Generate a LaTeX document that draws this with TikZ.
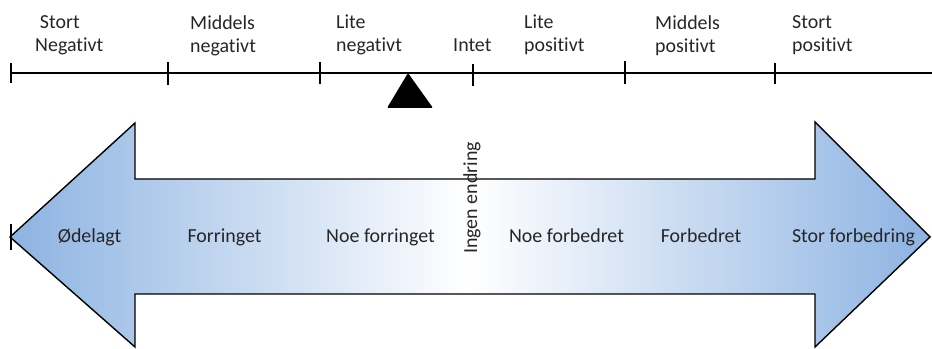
\documentclass[tikz,border=0pt]{standalone}
\usepackage{fontspec}
\setmainfont{Carlito}[Ligatures={NoCommon,NoRequired,NoContextual}]
\usetikzlibrary{positioning, calc}

\definecolor{arrowblue}{RGB}{141,179,226}

\begin{document}
\begin{tikzpicture}[
    x=0.03cm, y=-0.03cm,
    axis/.style={line width=1.7pt, draw=black},
    tickmark/.style={line width=1.7pt, draw=black},
    scalelabel/.style={anchor=north west, inner sep=0pt, align=left, text=black!85, font=\fontsize{17}{19.6}\selectfont},
    zonelabel/.style={anchor=base, inner sep=0pt, text=black!85, font=\fontsize{17}{19.6}\selectfont},
    bigarrow/.style={draw=black, line width=1.2pt, line join=miter, left color=arrowblue, right color=arrowblue, middle color=white}
]
\useasboundingbox (0,0) rectangle (932,349);

% ==================== Scale (Top) ====================
\coordinate (axisL) at (10,73);
\coordinate (axisR) at (932,73);
\draw[axis] (axisL) -- (axisR);

\coordinate (t1) at (11,73);
\coordinate (t2) at (168,73);
\coordinate (t3) at (320,73);
\coordinate (t4) at (473,73);
\coordinate (t5) at (625,73);
\coordinate (t6) at (775,73);
\draw[tickmark] ($(t1)+(0,-10)$) -- ($(t1)+(0,10)$);
\draw[tickmark] ($(t2)+(0,-11)$) -- ($(t2)+(0,12)$);
\draw[tickmark] ($(t3)+(0,-11)$) -- ($(t3)+(0,11)$);
\draw[tickmark] ($(t4)+(0,-9)$) -- ($(t4)+(0,13)$);
\draw[tickmark] ($(t5)+(0,-12)$) -- ($(t5)+(0,11)$);
\draw[tickmark] ($(t6)+(0,-10)$) -- ($(t6)+(0,11)$);

% pointer
\fill[black, rounded corners=1pt] (408,73) -- (433,108) -- (387,108) -- cycle;

% scale labels
\node[scalelabel] (StortNeg) at (35,15) {\hspace{4pt}Stort\\Negativt};
\node[scalelabel] (MiddelsNeg) at (190,15) {Middels\\negativt};
\node[scalelabel] (LiteNeg) at (336,15) {Lite\\negativt};
\node[zonelabel, anchor=base west] (Intet) at (453,52) {Intet};
\node[scalelabel] (LitePos) at (524,15) {Lite\\positivt};
\node[scalelabel] (MiddelsPos) at (655,15) {Middels\\positivt};
\node[scalelabel] (StortPos) at (792,15) {Stort\\positivt};

% ==================== Double Arrow (Bottom) ====================
\path[bigarrow] (10,237) -- (135,123) -- (135,179) -- (815,179) -- (815,122)
    -- (930,237) -- (815,347) -- (815,294) -- (135,294) -- (135,347) -- cycle;
\draw[tickmark, line width=1.2pt] (11,224) -- (11,250);

% zone labels
\node[zonelabel] (Odelagt) at (89.5,243) {Ødelagt};
\node[zonelabel] (Forringet) at (224.5,243) {Forringet};
\node[zonelabel] (NoeForringet) at (380.5,243) {Noe forringet};
\node[zonelabel] (NoeForbedret) at (566.5,243) {Noe forbedret};
\node[zonelabel] (Forbedret) at (701,243) {Forbedret};
\node[zonelabel] (StorForbedring) at (853.5,243) {Stor forbedring};
\node[zonelabel, anchor=center, rotate=90] (IngenEndring) at (472,198) {Ingen endring};

\end{tikzpicture}
\end{document}
